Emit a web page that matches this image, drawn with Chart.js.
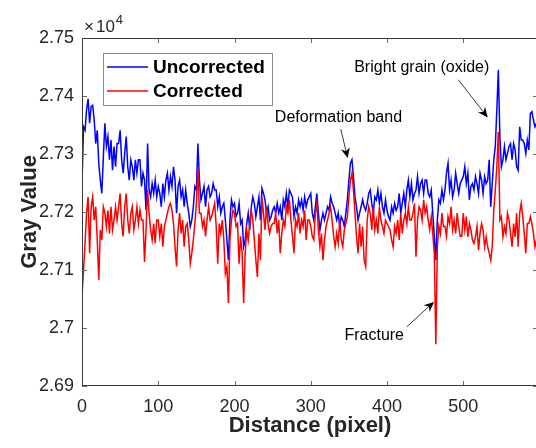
<!DOCTYPE html>
<html><head><meta charset="utf-8">
<script src="https://cdn.jsdelivr.net/npm/chart.js@4/dist/chart.umd.min.js"></script>
<style>html,body{margin:0;padding:0;background:#fff;overflow:hidden;width:536px;height:448px}
#wrap{width:540px;height:448px}</style></head>
<body><div id="wrap"><canvas id="c" width="540" height="448"></canvas></div>
<script>
// ---- data ----
const distance = [0,2,4,6,8,10,12,14,16,18,20,22,24,26,28,30,32,34,36,38,40,42,44,46,48,50,52,54,56,58,60,62,64,66,68,70,72,74,76,78,80,82,84,86,88,90,92,94,96,98,
100,102,104,106,108,110,112,114,116,118,120,122,124,126,128,130,132,134,136,138,140,142,144,146,148,150,152,154,156,158,160,162,164,166,168,170,172,174,176,178,180,182,184,186,188,190,192,194,196,198,
200,202,204,206,208,210,212,214,216,218,220,222,224,226,228,230,232,234,236,238,240,242,244,246,248,250,252,254,256,258,260,262,264,266,268,270,272,274,276,278,280,282,284,286,288,290,292,294,296,298,
300,302,304,306,308,310,312,314,316,318,320,322,324,326,328,330,332,334,336,338,340,342,344,346,348,350,352,354,356,358,360,362,364,366,368,370,372,374,376,378,380,382,384,386,388,390,392,394,396,398,
400,402,404,406,408,410,412,414,416,418,420,422,424,426,428,430,432,434,436,438,440,442,444,446,448,450,452,454,456,458,460,462,464,466,468,470,472,474,476,478,480,482,484,486,488,490,492,494,496,498,
500,502,504,506,508,510,512,514,516,518,520,522,524,526,528,530,532,534,536,538,540,542,544,546,548,550,552,554,556,558,560,562,564,566,568,570,572,574,576,578,580,582,584,586,588,590,592,594,596,598];
const uncorrected = [
27250,27347,27341,27376,27395,27353,27382,27384,27359,27318,27341,27284,27255,27232,27295,27353,27313,27330,27290,27324,27272,27313,27278,27318,27318,27341,27290,27267,27301,27330,27278,27255,27290,27278,27255,27290,27267,27290,27290,27244,27267,27255,27203,27318,27238,27226,27249,27232,27255,27226,27244,
27232,27209,27249,27226,27255,27267,27238,27261,27244,27278,27255,27198,27244,27255,27226,27238,27209,27238,27215,27198,27175,27186,27209,27244,27238,27318,27255,27221,27232,27244,27209,27238,27244,27226,27232,27249,27238,27238,27209,27226,27198,27209,27215,27186,27152,27117,27186,27221,27209,27215,
27192,27198,27215,27180,27186,27140,27152,27180,27198,27169,27209,27226,27215,27192,27209,27226,27186,27241,27232,27221,27198,27209,27186,27192,27203,27209,27198,27215,27198,27209,27186,27221,27209,27232,27209,27238,27232,27226,27192,27209,27198,27221,27209,27221,27203,27226,27209,27221,27226,27232,
27198,27186,27209,27232,27198,27169,27186,27198,27186,27198,27209,27203,27226,27215,27209,27198,27186,27198,27175,27192,27186,27175,27198,27221,27255,27284,27290,27261,27226,27209,27186,27198,27209,27221,27209,27203,27215,27232,27238,27215,27198,27226,27221,27238,27215,27232,27209,27198,27221,27203,
27192,27186,27209,27198,27215,27203,27209,27232,27198,27215,27232,27209,27238,27255,27226,27249,27221,27232,27238,27261,27232,27249,27255,27232,27255,27255,27232,27226,27238,27198,27158,27117,27186,27221,27215,27238,27221,27238,27267,27284,27238,27255,27226,27238,27267,27249,27232,27249,27255,27261,
27278,27249,27267,27221,27244,27249,27238,27261,27249,27232,27267,27255,27232,27261,27249,27255,27290,27209,27249,27290,27313,27376,27445,27330,27278,27290,27313,27290,27301,27313,27318,27290,27318,27307,27278,27272,27347,27324,27324,27318,27301,27324,27307,27370,27373,27359,27347,27353,27347];
const corrected = [
27055,27100,27146,27198,27226,27129,27209,27226,27186,27209,27152,27083,27169,27152,27209,27198,27175,27203,27163,27209,27169,27186,27209,27186,27209,27232,27180,27158,27209,27232,27186,27163,27198,27209,27169,27186,27209,27180,27203,27186,27186,27114,27169,27238,27198,27169,27152,27180,27146,27186,27186,
27158,27180,27140,27175,27186,27198,27209,27215,27203,27180,27140,27106,27169,27198,27163,27186,27140,27175,27180,27152,27111,27129,27152,27180,27215,27275,27198,27198,27175,27186,27158,27186,27209,27186,27192,27203,27215,27175,27111,27180,27163,27186,27152,27094,27106,27043,27152,27186,27203,27198,
27175,27180,27111,27158,27129,27043,27129,27169,27152,27180,27203,27186,27152,27117,27088,27163,27117,27226,27198,27169,27209,27180,27163,27175,27180,27180,27198,27163,27186,27129,27163,27186,27175,27209,27198,27221,27186,27158,27129,27186,27175,27198,27163,27186,27175,27203,27152,27186,27186,27175,
27158,27152,27198,27215,27169,27140,27163,27117,27152,27175,27186,27198,27209,27186,27158,27140,27163,27146,27186,27152,27140,27169,27180,27192,27226,27255,27267,27238,27198,27158,27129,27180,27140,27175,27117,27106,27186,27209,27198,27169,27209,27169,27186,27163,27209,27186,27175,27163,27186,27180,
27175,27169,27152,27140,27175,27163,27186,27152,27198,27163,27186,27198,27180,27209,27186,27186,27198,27215,27123,27186,27209,27203,27186,27221,27198,27209,27186,27169,27192,27163,27129,26972,27140,27175,27163,27198,27175,27175,27158,27192,27180,27209,27169,27186,27163,27198,27175,27158,27158,27198,
27169,27192,27157,27180,27169,27152,27146,27157,27175,27134,27163,27180,27169,27140,27157,27140,27129,27117,27140,27203,27238,27278,27338,27186,27192,27157,27175,27163,27198,27186,27163,27140,27180,27157,27198,27140,27198,27215,27192,27163,27129,27180,27180,27192,27180,27163,27140,27152,27146];
const seriesNames = ['Uncorrected', 'Corrected'];
const xTickValues = [0,100,200,300,400,500];
const yTickValues = [26900,27000,27100,27200,27300,27400,27500];
const xTitle = 'Distance (pixel)';
const yTitle = 'Gray Value';
// annotations in data coordinates
const annotationTexts = ['Deformation band','Bright grain (oxide)','Fracture'];
const annotationTextAt = [[419.7,27355],[534.2,27442],[422.3,26979]];
const arrowFrom = [[339.3,27343],[493.5,27428],[425.8,27002]];
const arrowTo = [[348.5,27293],[532,27363],[461.6,27045]];

const FONT = "'Liberation Sans', Arial, Helvetica, sans-serif";
const AXIS_COLOR = '#262626';

function fmt(v){ return String(Number((v/1e4).toFixed(4))); }

const pts = arr => arr.map((y,i)=>({x:distance[i], y:y}));

const framePlugin = {
  id:'frame',
  afterDraw(chart){
    const {ctx, chartArea:a, scales:{x, y}} = chart;
    ctx.save();
    // ticks (inward)
    ctx.strokeStyle = '#6a6a6a'; ctx.lineWidth = 1;
    ctx.beginPath();
    xTickValues.forEach(v=>{
      const px = Math.round(x.getPixelForValue(v))+0.5;
      ctx.moveTo(px, a.bottom); ctx.lineTo(px, a.bottom-5);
      ctx.moveTo(px, a.top); ctx.lineTo(px, a.top+5);
    });
    yTickValues.forEach(v=>{
      const py = Math.round(y.getPixelForValue(v))+0.5;
      ctx.moveTo(a.left, py); ctx.lineTo(a.left+5, py);
      ctx.moveTo(a.right, py); ctx.lineTo(a.right-5, py);
    });
    ctx.stroke();
    // box
    ctx.strokeStyle = '#3a3a3a'; ctx.lineWidth = 1;
    ctx.strokeRect(Math.round(a.left)+0.5, Math.round(a.top)+0.5, Math.round(a.right-a.left)-1, Math.round(a.bottom-a.top)-1);
    // exponent label
    ctx.fillStyle = AXIS_COLOR;
    ctx.textBaseline = 'alphabetic'; ctx.textAlign = 'left';
    ctx.font = '17px ' + FONT;
    ctx.fillText('\u00d7', a.left+2, a.top-6);
    const w1 = ctx.measureText('\u00d7').width;
    ctx.fillText('10', a.left+4+w1, a.top-6);
    const w2 = ctx.measureText('10').width;
    ctx.font = '13px ' + FONT;
    ctx.fillText('4', a.left+5+w1+w2, a.top-14);

    // legend
    const lx = 103, ly = 53, lw = 169, lh = 52;
    ctx.fillStyle = '#fff';
    ctx.fillRect(lx, ly, lw, lh);
    ctx.strokeStyle = '#8c8c8c'; ctx.lineWidth = 1;
    ctx.strokeRect(lx+0.5, ly+0.5, lw, lh);
    const colors = ['#0000ff','#ff0000'];
    ctx.font = 'bold 19px ' + FONT;
    ctx.textBaseline = 'middle';
    seriesNames.forEach((n,i)=>{
      const yy = ly + 14 + i*24;
      ctx.strokeStyle = colors[i]; ctx.lineWidth = 1.6;
      ctx.beginPath(); ctx.moveTo(lx+4, yy); ctx.lineTo(lx+45, yy); ctx.stroke();
      ctx.fillStyle = '#000';
      ctx.fillText(n, lx+50, yy+1);
    });

    // annotations
    ctx.font = '16px ' + FONT;
    ctx.fillStyle = '#000';
    ctx.textAlign = 'right'; ctx.textBaseline = 'alphabetic';
    annotationTexts.forEach((t,i)=>{
      ctx.fillText(t, x.getPixelForValue(annotationTextAt[i][0]), y.getPixelForValue(annotationTextAt[i][1]));
      const x0 = x.getPixelForValue(arrowFrom[i][0]), y0 = y.getPixelForValue(arrowFrom[i][1]);
      const x1 = x.getPixelForValue(arrowTo[i][0]), y1 = y.getPixelForValue(arrowTo[i][1]);
      const ang = Math.atan2(y1-y0, x1-x0);
      const L = 10, W = 4.5, B = 7;
      ctx.strokeStyle = '#222'; ctx.lineWidth = 0.9;
      ctx.beginPath(); ctx.moveTo(x0,y0);
      ctx.lineTo(x1 - B*Math.cos(ang), y1 - B*Math.sin(ang)); ctx.stroke();
      ctx.beginPath();
      ctx.moveTo(x1,y1);
      ctx.lineTo(x1 - L*Math.cos(ang) + W*Math.sin(ang), y1 - L*Math.sin(ang) - W*Math.cos(ang));
      ctx.lineTo(x1 - B*Math.cos(ang), y1 - B*Math.sin(ang));
      ctx.lineTo(x1 - L*Math.cos(ang) - W*Math.sin(ang), y1 - L*Math.sin(ang) + W*Math.cos(ang));
      ctx.closePath();
      ctx.fillStyle = '#000'; ctx.fill();
    });
    ctx.restore();
  }
};

new Chart(document.getElementById('c'), {
  type:'line',
  data:{ datasets:[
    {label:seriesNames[0], data:pts(uncorrected), borderColor:'#0000ff', borderWidth:1.5, pointRadius:0, fill:false, order:2},
    {label:seriesNames[1], data:pts(corrected), borderColor:'#ff0000', borderWidth:1.5, pointRadius:0, fill:false, order:1}
  ]},
  options:{
    responsive:false, animation:false, devicePixelRatio:1,
    layout:{padding:{top:38, right:2, left:0, bottom:0}},
    plugins:{legend:{display:false}, tooltip:{enabled:false}},
    elements:{line:{tension:0}},
    scales:{
      x:{ type:'linear', min:0, max:598,
        grid:{display:false, drawTicks:false}, border:{display:false},
        afterBuildTicks: s => { s.ticks = xTickValues.map(v=>({value:v})); },
        afterFit: s => { s.height = 62; },
        ticks:{ font:{family:FONT, size:18}, color:AXIS_COLOR, padding:10, maxRotation:0, autoSkip:false },
        title:{ display:true, text:xTitle, font:{family:FONT, size:22, weight:'bold'}, color:AXIS_COLOR, padding:{top:0, bottom:9} }
      },
      y:{ type:'linear', min:26900, max:27500,
        grid:{display:false, drawTicks:false}, border:{display:false},
        afterBuildTicks: s => { s.ticks = yTickValues.map(v=>({value:v})); },
        afterFit: s => { s.width = 82; },
        ticks:{ font:{family:FONT, size:18}, color:AXIS_COLOR, padding:8, callback:v=>fmt(v) },
        title:{ display:true, text:yTitle, font:{family:FONT, size:22, weight:'bold'}, color:AXIS_COLOR, padding:{top:17, bottom:0} }
      }
    }
  },
  plugins:[framePlugin]
});
</script>
</body></html>
